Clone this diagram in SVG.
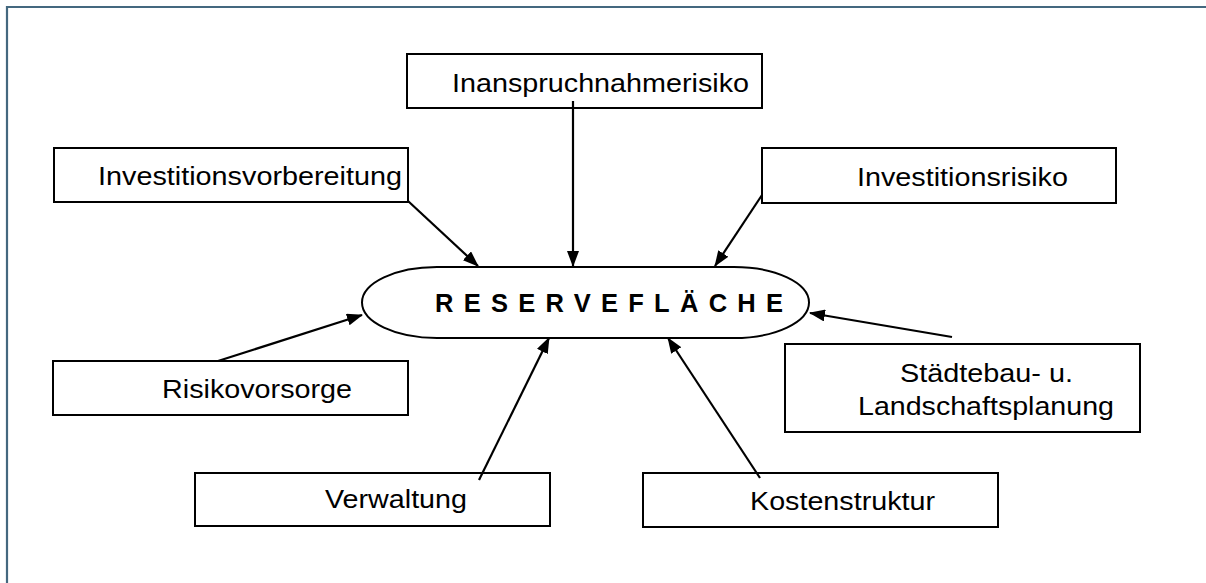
<svg xmlns="http://www.w3.org/2000/svg" width="1206" height="583" viewBox="0 0 1206 583">
  <style>
    .box { fill: #ffffff; stroke: #000000; stroke-width: 2; }
    .lbl { font-family: "Liberation Sans", Arial, Helvetica, sans-serif; font-size: 25.5px; fill: #000000; }
    .core { font-family: "Liberation Sans", Arial, Helvetica, sans-serif; font-size: 25.5px; font-weight: bold; fill: #000000; }
    .conn { stroke: #000000; stroke-width: 2.2; fill: none; marker-end: url(#tip); }
    .frame { stroke: #44687f; stroke-width: 2.2; fill: none; }
  </style>
  <defs>
    <marker id="tip" viewBox="0 0 16 12" refX="15" refY="6" markerWidth="16" markerHeight="12" markerUnits="userSpaceOnUse" orient="auto">
      <path d="M0,0 L16,6 L0,12 Z" fill="#000000"/>
    </marker>
  </defs>
  <rect width="1206" height="583" fill="#ffffff"/>
  <!-- page frame: top and left rules only -->
  <path class="frame" d="M7,583 L7,7 L1206,7"/>

  <g id="reserveflaeche">
    <rect class="box" x="362" y="267" width="447" height="71" rx="75" ry="35.5"/>
    <text class="core" x="435" y="312" textLength="348" lengthAdjust="spacing">RESERVEFLÄCHE</text>
  </g>

  <g id="inanspruchnahmerisiko">
    <rect class="box" x="407" y="54" width="355" height="54"/>
    <text class="lbl" x="452" y="92" textLength="297" lengthAdjust="spacingAndGlyphs">Inanspruchnahmerisiko</text>
  </g>

  <g id="investitionsvorbereitung">
    <rect class="box" x="54" y="148" width="354" height="54"/>
    <text class="lbl" x="98" y="185" textLength="304" lengthAdjust="spacingAndGlyphs">Investitionsvorbereitung</text>
  </g>

  <g id="investitionsrisiko">
    <rect class="box" x="762" y="148" width="354" height="55"/>
    <text class="lbl" x="857" y="186" textLength="211" lengthAdjust="spacingAndGlyphs">Investitionsrisiko</text>
  </g>

  <g id="risikovorsorge">
    <rect class="box" x="53" y="361" width="355" height="54"/>
    <text class="lbl" x="162" y="398" textLength="190" lengthAdjust="spacingAndGlyphs">Risikovorsorge</text>
  </g>

  <g id="staedtebau">
    <rect class="box" x="785" y="344" width="355" height="88"/>
    <text class="lbl" x="900" y="382" textLength="173" lengthAdjust="spacingAndGlyphs">Städtebau- u.</text>
    <text class="lbl" x="858" y="415" textLength="256" lengthAdjust="spacingAndGlyphs">Landschaftsplanung</text>
  </g>

  <g id="verwaltung">
    <rect class="box" x="195" y="473" width="355" height="53"/>
    <text class="lbl" x="325" y="508" textLength="142" lengthAdjust="spacingAndGlyphs">Verwaltung</text>
  </g>

  <g id="kostenstruktur">
    <rect class="box" x="643" y="473" width="355" height="54"/>
    <text class="lbl" x="750" y="510" textLength="185" lengthAdjust="spacingAndGlyphs">Kostenstruktur</text>
  </g>

  <g id="connectors">
    <line class="conn" x1="573" y1="101" x2="573" y2="266"/>
    <line class="conn" x1="408" y1="201" x2="478" y2="266"/>
    <line class="conn" x1="762" y1="195" x2="715" y2="266"/>
    <line class="conn" x1="218" y1="361" x2="362" y2="315"/>
    <line class="conn" x1="479" y1="480" x2="549" y2="338"/>
    <line class="conn" x1="760" y1="478" x2="668" y2="338"/>
    <line class="conn" x1="952" y1="337" x2="810" y2="313"/>
  </g>
</svg>
